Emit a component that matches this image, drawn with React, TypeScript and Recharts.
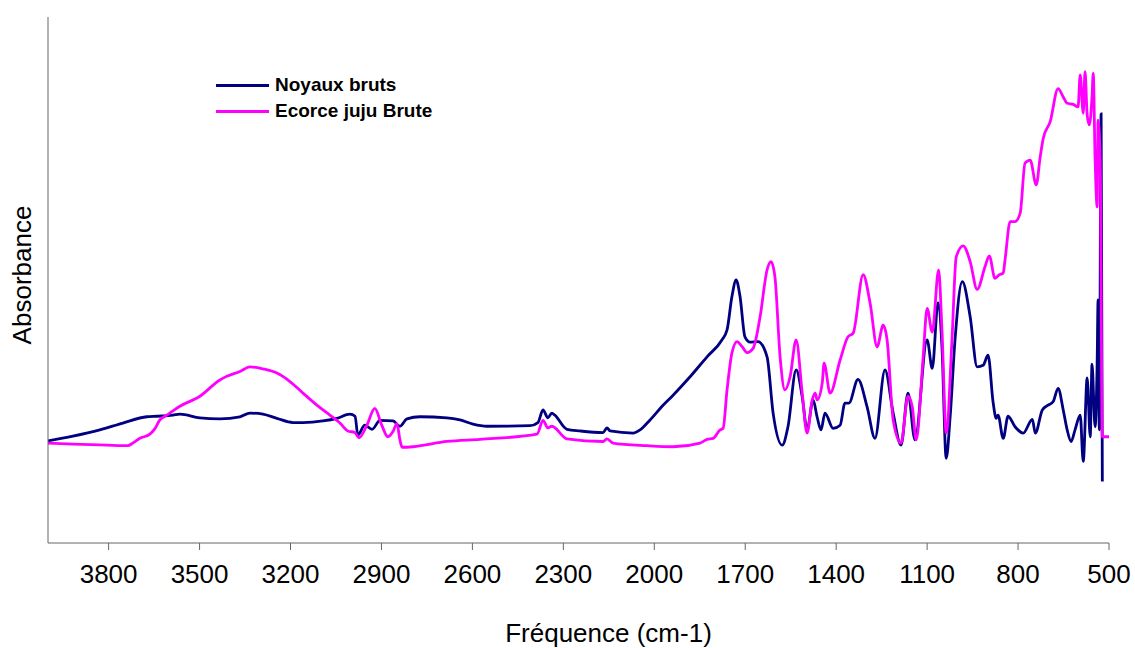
import { LineChart, Line, XAxis, YAxis, Label } from 'recharts'

// Wavenumbers (cm-1) and absorbance for the raw kernels spectrum
const NOYAUX_FREQ = [
  4000, 3918, 3829, 3753, 3674, 3641, 3588, 3565, 3499, 3433, 3367, 3334, 3291, 3245, 3192, 3159,
  3093, 3047, 3004, 2987, 2978, 2955, 2931, 2905, 2862, 2839, 2816, 2773, 2684, 2641, 2598, 2552,
  2410, 2384, 2367, 2351, 2338, 2328, 2288, 2245, 2169, 2156, 2146, 2070, 2047, 2014, 1971, 1938,
  1882, 1826, 1777, 1760, 1744, 1730, 1717, 1701, 1684, 1658, 1628, 1608, 1578, 1559, 1532, 1512,
  1496, 1476, 1463, 1450, 1437, 1410, 1387, 1371, 1358, 1328, 1298, 1272, 1239, 1212, 1186, 1163,
  1140, 1100, 1083, 1064, 1051, 1037, 1024, 1008, 984, 958, 935, 915, 899, 882, 872, 866,
  849, 833, 810, 783, 753, 743, 720, 701, 684, 668, 651, 638, 625, 612, 595, 585,
  572, 562, 556, 546, 539, 536, 532, 526, 522,
]
const NOYAUX_ABS = [
  0.194, 0.203, 0.215, 0.228, 0.240, 0.241, 0.243, 0.245, 0.238, 0.236, 0.240, 0.247, 0.245, 0.237, 0.229, 0.229,
  0.232, 0.237, 0.245, 0.241, 0.205, 0.224, 0.216, 0.233, 0.232, 0.222, 0.236, 0.240, 0.238, 0.234, 0.226, 0.222,
  0.223, 0.229, 0.253, 0.238, 0.247, 0.243, 0.216, 0.213, 0.210, 0.219, 0.213, 0.209, 0.215, 0.234, 0.262, 0.281,
  0.316, 0.354, 0.386, 0.405, 0.468, 0.500, 0.468, 0.392, 0.382, 0.383, 0.354, 0.247, 0.186, 0.221, 0.329, 0.278,
  0.215, 0.272, 0.240, 0.215, 0.247, 0.218, 0.224, 0.266, 0.266, 0.311, 0.259, 0.199, 0.329, 0.247, 0.186, 0.285,
  0.196, 0.386, 0.332, 0.457, 0.373, 0.161, 0.240, 0.386, 0.497, 0.430, 0.335, 0.338, 0.357, 0.266, 0.237, 0.243,
  0.199, 0.241, 0.221, 0.209, 0.235, 0.209, 0.253, 0.262, 0.269, 0.294, 0.253, 0.215, 0.193, 0.215, 0.243, 0.155,
  0.314, 0.202, 0.340, 0.221, 0.345, 0.462, 0.215, 0.816, 0.117,
]

// Wavenumbers (cm-1) and absorbance for the raw bark spectrum
const ECORCE_FREQ = [
  4000, 3918, 3806, 3737, 3720, 3697, 3664, 3648, 3631, 3608, 3565, 3499, 3433, 3410, 3367, 3334,
  3291, 3245, 3202, 3159, 3113, 3070, 3037, 3011, 2988, 2974, 2948, 2922, 2899, 2879, 2862, 2849,
  2839, 2832, 2796, 2684, 2575, 2387, 2367, 2351, 2338, 2288, 2169, 2156, 2136, 2024, 1938, 1849,
  1826, 1806, 1783, 1773, 1760, 1744, 1727, 1710, 1694, 1674, 1651, 1628, 1615, 1602, 1585, 1569,
  1552, 1532, 1512, 1496, 1479, 1469, 1463, 1446, 1440, 1420, 1387, 1361, 1344, 1311, 1288, 1265,
  1245, 1232, 1212, 1186, 1163, 1149, 1136, 1113, 1100, 1083, 1062, 1051, 1037, 1018, 1004, 981,
  958, 935, 909, 895, 876, 862, 849, 843, 826, 810, 793, 777, 760, 740, 727, 717,
  694, 668, 651, 638, 618, 602, 595, 585, 579, 572, 565, 556, 552, 546, 539, 536,
  529, 522, 500,
]
const ECORCE_ABS = [
  0.190, 0.188, 0.186, 0.185, 0.190, 0.199, 0.207, 0.217, 0.234, 0.243, 0.260, 0.279, 0.310, 0.317, 0.326, 0.335,
  0.331, 0.323, 0.307, 0.285, 0.262, 0.243, 0.228, 0.213, 0.210, 0.200, 0.224, 0.256, 0.224, 0.202, 0.212, 0.227,
  0.196, 0.182, 0.183, 0.193, 0.197, 0.207, 0.233, 0.219, 0.222, 0.198, 0.193, 0.198, 0.190, 0.185, 0.183, 0.190,
  0.197, 0.199, 0.215, 0.218, 0.291, 0.361, 0.383, 0.373, 0.362, 0.370, 0.430, 0.519, 0.535, 0.506, 0.354, 0.291,
  0.316, 0.386, 0.285, 0.209, 0.272, 0.285, 0.272, 0.304, 0.342, 0.285, 0.348, 0.392, 0.399, 0.510, 0.456, 0.373,
  0.414, 0.386, 0.234, 0.190, 0.279, 0.259, 0.196, 0.354, 0.446, 0.401, 0.519, 0.405, 0.209, 0.386, 0.544, 0.565,
  0.535, 0.482, 0.525, 0.546, 0.503, 0.510, 0.513, 0.538, 0.611, 0.611, 0.627, 0.722, 0.728, 0.681, 0.734, 0.769,
  0.801, 0.864, 0.848, 0.836, 0.834, 0.829, 0.890, 0.817, 0.896, 0.814, 0.795, 0.848, 0.893, 0.734, 0.639, 0.804,
  0.728, 0.202, 0.202,
]

const X_TICKS = [3800, 3500, 3200, 2900, 2600, 2300, 2000, 1700, 1400, 1100, 800, 500]

const noyaux = NOYAUX_FREQ.map((freq, i) => ({ freq, abs: NOYAUX_ABS[i] }))
const ecorce = ECORCE_FREQ.map((freq, i) => ({ freq, abs: ECORCE_ABS[i] }))

const SERIES = [
  { name: 'Noyaux bruts', color: '#000080', data: noyaux },
  { name: 'Ecorce juju Brute', color: '#ff00ff', data: ecorce },
]

const FONT = '"Liberation Sans", Arial, sans-serif'
const AXIS_COLOR = '#666666'

// legend box sits inside the plot, top left
function SpectrumLegend() {
  return (
    <div
      style={{
        position: 'absolute',
        left: 216,
        top: 72,
        fontFamily: FONT,
        fontWeight: 'bold',
        fontSize: 19,
      }}
    >
      {SERIES.map((s) => (
        <div key={s.name} style={{ display: 'flex', alignItems: 'center', height: 26 }}>
          <span style={{ display: 'inline-block', width: 53, height: 3, background: s.color, marginRight: 6 }} />
          <span style={{ color: '#000' }}>{s.name}</span>
        </div>
      ))}
    </div>
  )
}

export default function App() {
  return (
    <div style={{ position: 'absolute', left: 0, top: 0, width: 1135, height: 648, background: '#fff' }}>
      <LineChart
        width={1135}
        height={648}
        margin={{ top: 17, right: 26, left: 47, bottom: 0 }}
        style={{ fontFamily: FONT }}
      >
        <XAxis
          type="number"
          dataKey="freq"
          domain={[500, 4000]}
          reversed
          allowDataOverflow
          ticks={X_TICKS}
          height={105}
          tickSize={7}
          tickMargin={15}
          stroke={AXIS_COLOR}
          tick={{ fill: '#000', fontSize: 26 }}
        >
          <Label
            value="Fréquence (cm-1)"
            position="insideBottom"
            offset={6}
            dx={30}
            style={{ fill: '#000', fontSize: 26 }}
          />
        </XAxis>
        <YAxis
          type="number"
          dataKey="abs"
          domain={[0, 1]}
          allowDataOverflow
          width={1}
          tick={false}
          tickLine={false}
          stroke={AXIS_COLOR}
        >
          <Label
            value="Absorbance"
            angle={-90}
            position="center"
            dx={-26}
            dy={-5}
            style={{ fill: '#000', fontSize: 26, textAnchor: 'middle' }}
          />
        </YAxis>
        {SERIES.map((s) => (
          <Line
            key={s.name}
            data={s.data}
            dataKey="abs"
            name={s.name}
            type="monotone"
            stroke={s.color}
            strokeWidth={2.8}
            dot={false}
            isAnimationActive={false}
          />
        ))}
      </LineChart>
      <SpectrumLegend />
    </div>
  )
}
